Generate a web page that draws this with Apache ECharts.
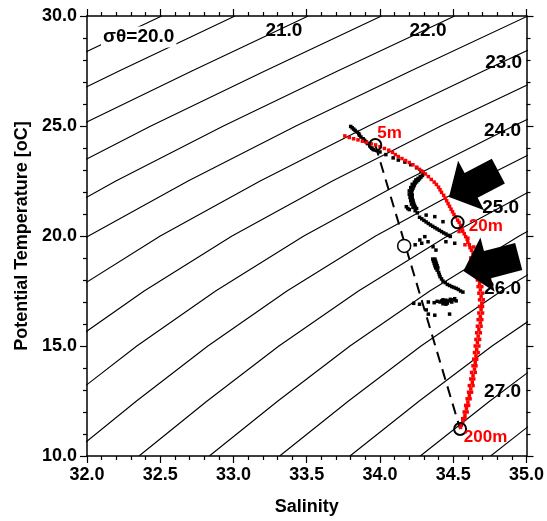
<!DOCTYPE html>
<html><head><meta charset="utf-8">
<script src="https://cdn.jsdelivr.net/npm/echarts@6/dist/echarts.min.js"></script>
<style>html,body{margin:0;padding:0;background:#fff}#c{width:547px;height:521px}</style>
</head><body><div id="c"></div>
<script>
const FONT = 'Liberation Sans, Arial, Helvetica, sans-serif';

// Axis ranges / ticks
const xRange = [32.0, 35.0];
const yRange = [10.0, 30.0];
const xStep = 0.5;
const yStep = 5.0;

// sigma-theta contour levels and their lines ([salinity, temperature])
const sigmaLevels = ['20.0','20.5','21.0','21.5','22.0','22.5','23.0','23.5','24.0','24.5','25.0','25.5','26.0','26.5','27.0','27.5'];
const contourLines = [
  [[30.95,25],[31.72,27.5],[32.51,30]],
  [[31.446,25],[32.219,27.5],[33.01,30]],
  [[31.212,22.5],[31.941,25],[32.716,27.5],[33.51,30]],
  [[31.705,22.5],[32.436,25],[33.214,27.5],[34.01,30]],
  [[31.52,20],[32.197,22.5],[32.931,25],[33.711,27.5],[34.51,30]],
  [[31.415,17.5],[32.01,20],[32.69,22.5],[33.426,25],[34.209,27.5],[35.01,30]],
  [[31.37,15],[31.903,17.5],[32.50,20],[33.182,22.5],[33.921,25],[34.706,27.5],[35.51,30]],
  [[31.373,12.5],[31.855,15],[32.39,17.5],[32.99,20],[33.675,22.5],[34.416,25],[35.204,27.5]],
  [[31.395,10],[31.855,12.5],[32.34,15],[32.878,17.5],[33.48,20],[34.167,22.5],[34.911,25],[35.70,27.5]],
  [[31.875,10],[32.338,12.5],[32.825,15],[33.365,17.5],[33.97,20],[34.66,22.5],[35.406,25]],
  [[32.355,10],[32.82,12.5],[33.31,15],[33.853,17.5],[34.46,20],[35.152,22.5]],
  [[32.835,10],[33.303,12.5],[33.795,15],[34.34,17.5],[34.95,20],[35.645,22.5]],
  [[33.315,10],[33.785,12.5],[34.28,15],[34.828,17.5],[35.44,20]],
  [[33.795,10],[34.268,12.5],[34.765,15],[35.315,17.5]],
  [[34.275,10],[34.75,12.5],[35.25,15]],
  [[34.755,10],[35.233,12.5]]
];

// contour labels [S, T, text]
const sigmaTitleLabel = [[32.353, 29.05, 'σθ=20.0']];
const contourLabels = [
  [33.344, 29.32, '21.0'],
  [34.328, 29.32, '22.0'],
  [34.844, 27.86, '23.0'],
  [34.837, 24.77, '24.0'],
  [34.824, 21.27, '25.0'],
  [34.837, 17.59, '26.0'],
  [34.837, 12.93, '27.0']
];

// red profile (S, T)
const redProfile = [
  [33.76,24.55],[33.79,24.48],[33.82,24.42],[33.85,24.37],[33.88,24.31],[33.91,24.25],[33.94,24.19],[33.97,24.14],
  [34.0,24.06],[34.03,23.98],[34.06,23.9],[34.085,23.8],[34.105,23.7],[34.125,23.61],[34.15,23.52],[34.175,23.43],
  [34.2,23.34],[34.225,23.24],[34.25,23.13],[34.27,23.03],[34.29,22.93],[34.31,22.82],[34.33,22.7],[34.35,22.57],
  [34.37,22.45],[34.385,22.34],[34.4,22.22],[34.41,22.1],[34.42,21.98],[34.435,21.85],[34.445,21.72],[34.455,21.6],
  [34.465,21.47],[34.475,21.35],[34.485,21.22],[34.495,21.1],[34.505,20.98],[34.515,20.86],[34.53,20.72],[34.54,20.62],
  [34.55,20.48],[34.56,20.35],[34.565,20.22],[34.575,20.1],[34.585,19.97],[34.595,19.85],[34.6,19.72],[34.61,19.6],
  [34.615,19.47],[34.625,19.35],[34.635,19.22],[34.64,19.1],[34.65,18.97],[34.655,18.85],[34.66,18.73],
  [34.54,20.2],[34.6,19.9],[34.58,19.6],[34.64,19.5],[34.62,19.0],[34.67,19.05],[34.64,18.7],[34.68,18.8],
  [34.735,18.6],[34.755,18.45],
  [34.655,18.6],[34.675,18.6],[34.67,18.45],[34.66,18.3],[34.68,18.3],[34.675,18.15],[34.665,18.0],[34.69,18.0],
  [34.68,17.85],[34.67,17.7],[34.695,17.7],[34.685,17.55],[34.675,17.4],[34.70,17.4],[34.69,17.25],[34.68,17.1],
  [34.705,17.1],[34.695,16.95],[34.68,16.8],[34.70,16.8],[34.69,16.65],[34.675,16.5],[34.70,16.5],[34.685,16.35],
  [34.67,16.2],[34.695,16.2],[34.685,16.05],[34.665,15.9],[34.69,15.9],[34.675,15.75],[34.66,15.6],[34.685,15.6],
  [34.67,15.45],[34.655,15.3],[34.68,15.3],[34.665,15.15],[34.65,15.0],[34.675,15.0],[34.66,14.85],[34.645,14.7],
  [34.67,14.7],[34.655,14.55],[34.64,14.4],[34.66,14.4],[34.65,14.25],[34.635,14.1],[34.655,14.1],[34.645,13.95],
  [34.625,13.8],[34.65,13.8],[34.635,13.65],[34.62,13.5],[34.64,13.5],[34.63,13.35],[34.61,13.2],[34.635,13.2],
  [34.62,13.05],[34.605,12.9],[34.625,12.9],[34.61,12.75],[34.595,12.6],[34.615,12.6],[34.6,12.45],[34.585,12.3],
  [34.605,12.3],[34.59,12.15],[34.575,12.0],[34.595,12.0],[34.58,11.85],[34.565,11.7],[34.58,11.7],[34.565,11.55],
  [34.555,11.4],[34.55,11.3]
];

// black profiles (S, T)
const blackProfile = [
  // near-surface trace
  [33.80,24.98],[33.81,24.92],[33.82,24.86],[33.83,24.8],[33.845,24.72],[33.855,24.65],[33.86,24.58],[33.87,24.5],
  [33.885,24.42],[33.895,24.35],[33.905,24.28],[33.915,24.2],[33.93,24.1],[33.945,24.0],[33.955,23.93],[33.98,23.88],[34.0,23.82],
  // along the red profile
  [34.04,23.7],[34.09,23.55],[34.125,23.45],[34.17,23.36],[34.21,23.24],[34.25,23.1],[34.28,22.95],[34.295,22.85],
  // first dense chunk
  [34.29,22.75],[34.28,22.68],[34.27,22.6],[34.26,22.53],[34.25,22.46],[34.24,22.4],[34.235,22.32],[34.23,22.25],
  [34.225,22.17],[34.22,22.1],[34.215,22.02],[34.215,21.94],[34.22,21.86],[34.215,21.78],[34.22,21.7],[34.225,21.62],
  [34.225,21.55],[34.23,21.48],[34.235,21.4],[34.24,21.32],[34.25,21.25],[34.18,21.33],[34.19,21.25],[34.2,21.2],
  [34.275,22.7],[34.26,22.62],[34.245,22.55],[34.235,22.45],[34.22,22.35],[34.21,22.2],[34.2,22.05],[34.2,21.9],
  [34.205,21.75],[34.21,21.6],[34.215,21.45],[34.225,21.3],[34.24,21.15],[34.255,21.05],
  // diagonal
  [34.27,20.85],[34.285,20.78],[34.30,20.71],[34.315,20.64],[34.33,20.57],[34.345,20.5],[34.36,20.44],[34.375,20.38],
  [34.39,20.32],[34.405,20.26],[34.42,20.2],[34.435,20.14],[34.45,20.09],[34.465,20.03],[34.48,19.98],
  // scattered dots
  [34.315,20.95],[34.374,20.88],[34.43,20.65],[34.45,19.74],[34.51,19.67],[34.328,19.74],[34.272,19.82],[34.362,19.51],
  [34.382,19.36],[34.306,19.97],[34.24,19.6],[34.285,19.67],
  // second chunk
  [34.36,18.95],[34.375,18.95],[34.365,18.85],[34.38,18.85],[34.37,18.75],[34.385,18.75],[34.375,18.65],[34.39,18.65],
  [34.38,18.55],[34.395,18.55],[34.39,18.45],[34.40,18.35],[34.405,18.25],[34.41,18.15],[34.42,18.05],[34.43,17.95],
  [34.445,17.88],[34.46,17.8],[34.475,17.75],[34.49,17.7],[34.505,17.66],[34.52,17.62],[34.535,17.57],[34.55,17.5],[34.566,17.45],
  // cluster near 17 degC
  [34.41,17.0],[34.42,17.05],[34.43,17.1],[34.44,17.0],[34.45,17.08],[34.46,16.95],[34.47,17.05],[34.48,17.12],
  [34.49,17.0],[34.5,17.1],[34.51,17.15],[34.52,17.05],[34.43,16.92],[34.45,16.9],
  [34.23,16.94],[34.27,16.9],[34.33,17.0],[34.37,16.97],[34.39,17.03],
  [34.33,16.45],[34.374,16.4],[34.475,16.45],[34.316,16.64]
];

// dashed mixing line and circles
const dashedLine = [[33.968,24.14],[34.547,11.23]];
const depthCircles = [[33.968,24.14],[34.53,20.62],[34.547,11.23]];
const midCircle = [[34.165,19.55]];
const depthLabels = [[33.982,24.68,'5m'],[34.606,20.43,'20m'],[34.572,10.84,'200m']];

// arrows: [tipS, tipT, tailS, tailT]
const arrows = [
  [34.471,21.77,34.808,22.95],
  [34.569,18.41,34.947,19.07]
];

const chart = echarts.init(document.getElementById('c'), null, {renderer:'canvas'});

const axisLineStyle = {color:'#000', width:1.5};
const tickStyle = {color:'#000', width:1.2};
const labelFont = {fontSize:18, fontWeight:'bold', color:'#000', fontFamily:FONT};
const nameFont = {fontSize:18, fontWeight:'bold', color:'#000', fontFamily:FONT};

function xAx(pos, showLabel){
  return {
    type:'value', min:xRange[0], max:xRange[1], interval:xStep, position:pos,
    axisLine:{show:true, onZero:false, lineStyle:axisLineStyle},
    axisTick:{show:true, inside:false, length:7, lineStyle:tickStyle},
    minorTick:{show:true, splitNumber:5, length:4, lineStyle:tickStyle},
    splitLine:{show:false}, minorSplitLine:{show:false},
    axisLabel:{show:showLabel, formatter:v=>v.toFixed(1), margin:10, ...labelFont},
    name: showLabel ? 'Salinity' : '', nameLocation:'middle', nameGap:42, nameTextStyle:nameFont
  };
}
function yAx(pos, showLabel){
  return {
    type:'value', min:yRange[0], max:yRange[1], interval:yStep, position:pos,
    axisLine:{show:true, onZero:false, lineStyle:axisLineStyle},
    axisTick:{show:true, inside:false, length:7, lineStyle:tickStyle},
    minorTick:{show:true, splitNumber:5, length:4, lineStyle:tickStyle},
    splitLine:{show:false}, minorSplitLine:{show:false},
    axisLabel:{show:showLabel, formatter:v=>v.toFixed(1), margin:10, ...labelFont},
    name: showLabel ? 'Potential Temperature [oC]' : '', nameLocation:'middle', nameRotate:90, nameGap:54, nameTextStyle:nameFont
  };
}

const series = [];
contourLines.forEach((ln, i) => {
  series.push({
    type:'line', name:'σθ '+sigmaLevels[i], data:ln, symbol:'none', showSymbol:false, clip:true, silent:true,
    lineStyle:{color:'#000', width:1.1}, z:1
  });
});
series.push({
  type:'line', data:dashedLine, symbol:'none', clip:true, silent:true,
  lineStyle:{color:'#000', width:2, type:[11,7]}, z:2
});
series.push({
  type:'scatter', data:blackProfile, symbol:'rect', symbolSize:3.5, itemStyle:{color:'#000', opacity:1}, z:3, silent:true
});
series.push({
  type:'scatter', data:redProfile, symbol:'rect', symbolSize:3.5, itemStyle:{color:'#ff0000', opacity:1}, z:4, silent:true
});
series.push({
  type:'scatter', data:depthCircles, symbol:'circle', symbolSize:12,
  itemStyle:{color:'rgba(0,0,0,0)', borderColor:'#000', borderWidth:2, opacity:1}, z:5, silent:true
});
series.push({
  type:'scatter', data:midCircle, symbol:'circle', symbolSize:13,
  itemStyle:{color:'#fff', borderColor:'#000', borderWidth:1.5, opacity:1}, z:5, silent:true
});
series.push({
  type:'custom', data:arrows, encode:{x:[0,2], y:[1,3]}, clip:false, z:6, silent:true,
  renderItem:(params, api) => {
    const tip = api.coord([api.value(0), api.value(1)]);
    const tail = api.coord([api.value(2), api.value(3)]);
    let dx = tip[0]-tail[0], dy = tip[1]-tail[1];
    const len = Math.hypot(dx, dy); dx/=len; dy/=len;
    const nx = -dy, ny = dx;
    const headLen = 25, headHalf = 28, shaftHalf = 14;
    const bx = tip[0]-dx*headLen, by = tip[1]-dy*headLen;
    return {
      type:'polygon',
      shape:{points:[
        tip,
        [bx+nx*headHalf, by+ny*headHalf],
        [bx+nx*shaftHalf, by+ny*shaftHalf],
        [tail[0]+nx*shaftHalf, tail[1]+ny*shaftHalf],
        [tail[0]-nx*shaftHalf, tail[1]-ny*shaftHalf],
        [bx-nx*shaftHalf, by-ny*shaftHalf],
        [bx-nx*headHalf, by-ny*headHalf]
      ]},
      style:{fill:'#000'}
    };
  }
});
const txt = {show:true, position:'inside', formatter:p=>p.data[2], fontSize:19, fontWeight:'bold', color:'#000', fontFamily:FONT, opacity:1};
series.push({
  type:'scatter', data:contourLabels, symbolSize:1, itemStyle:{color:'rgba(0,0,0,0)', opacity:1}, z:7, silent:true,
  label:{...txt}
});
series.push({
  type:'scatter', data:sigmaTitleLabel, symbolSize:1, itemStyle:{color:'rgba(0,0,0,0)', opacity:1}, z:7, silent:true,
  label:{...txt, backgroundColor:'#fff', padding:[1,2]}
});
series.push({
  type:'scatter', data:depthLabels, symbolSize:1, itemStyle:{color:'rgba(0,0,0,0)', opacity:1}, z:7, silent:true,
  label:{...txt, fontSize:17, align:'left', verticalAlign:'middle', color:'#ff0000'}
});

chart.setOption({
  animation:false,
  backgroundColor:'#fff',
  grid:{left:87, right:18, top:16, bottom:65, containLabel:false},
  xAxis:[xAx('bottom', true), xAx('top', false)],
  yAxis:[yAx('left', true), yAx('right', false)],
  series
});
</script></body></html>
